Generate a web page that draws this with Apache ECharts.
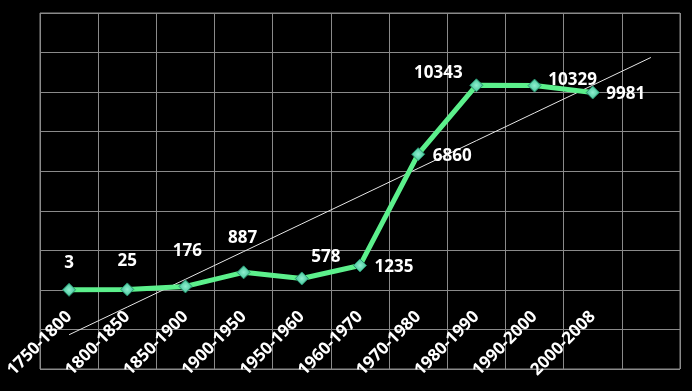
<!DOCTYPE html>
<html><head><meta charset="utf-8">
<script src="https://cdn.jsdelivr.net/npm/echarts@6/dist/echarts.min.js"></script>
<style>html,body{margin:0;padding:0;background:#000;}#c{width:692px;height:391px;}</style>
</head><body><div id="c"></div>
<script>
const categories = ['1750-1800','1800-1850','1850-1900','1900-1950','1950-1960','1960-1970','1970-1980','1980-1990','1990-2000','2000-2008',''];
const values = [3, 25, 176, 887, 578, 1235, 6860, 10343, 10329, 9981];
// linear trend line values, one per category
const trendValues = [-2268, -866, 536, 1938, 3340, 4742, 6144, 7546, 8948, 10350, 11752];
const yTicks = {min: -4000, max: 14000, interval: 2000};

const labelOffsets = [[0,-27],[0,-28],[2,-35],[-1,-34],[24,-21],[34,2],[34,2],[-38,-12],[38,-5],[33,2]];

const chart = echarts.init(document.getElementById('c'));
const gridColor = '#8a8a8a';
chart.setOption({
  backgroundColor: '#000',
  animation: false,
  grid: {left: 40, right: 12, top: 13, bottom: 22, show: true, borderColor: gridColor, borderWidth: 1,
         containLabel: false, outerBoundsMode: 'none'},
  xAxis: {
    type: 'category', data: categories, boundaryGap: true, offset: -79,
    axisLine: {show: false},
    axisTick: {show: false},
    axisLabel: {rotate: 45, color: '#fff', fontFamily: 'Open Sans', fontWeight: 'bold', fontSize: 17, margin: 24, interval: 0,
                padding: [12, 0, 0, 0]},
    splitLine: {show: true, interval: 0, lineStyle: {color: gridColor, width: 1}}
  },
  yAxis: {
    type: 'value', min: yTicks.min, max: yTicks.max, interval: yTicks.interval,
    axisLabel: {show: false}, axisLine: {show: false}, axisTick: {show: false},
    splitLine: {show: true, lineStyle: {color: gridColor, width: 1}}
  },
  series: [
    {
      type: 'line', data: trendValues, symbol: 'none', z: 3,
      lineStyle: {color: '#e6e6e6', width: 1}, silent: true
    },
    {
      type: 'line', z: 5,
      data: values.map((v, i) => ({value: v, label: {offset: labelOffsets[i]}})),
      symbol: 'diamond', symbolSize: 13,
      lineStyle: {color: '#5cf08c', width: 5},
      itemStyle: {
        color: new echarts.graphic.RadialGradient(0.5, 0.5, 0.6, [
          {offset: 0, color: '#8ff0d0'}, {offset: 1, color: '#2fb68a'}
        ]),
        borderColor: '#27946f', borderWidth: 1
      },
      label: {
        show: true, position: 'inside', color: '#fff',
        fontFamily: 'Open Sans', fontWeight: 'bold', fontSize: 17
      }
    }
  ]
});
</script></body></html>
